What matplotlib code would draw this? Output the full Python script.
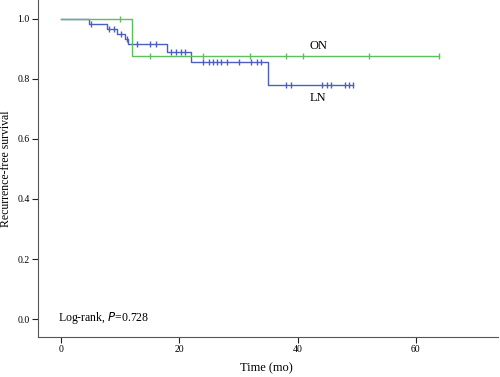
import numpy as np
import matplotlib.pyplot as plt

# LN group: event times and survival after each drop
ln_event_t = [0, 4.8, 7.8, 9.5, 10.8, 11.4, 18.0, 22.0, 35.0]
ln_surv = [1.0, 0.984, 0.968, 0.951, 0.934, 0.917, 0.890, 0.858, 0.780]
ln_end = 49.4
ln_censor = [5.0, 8.1, 8.9, 10.1, 11.1, 12.9, 15.0, 16.0, 18.6, 19.4, 20.3, 21.0,
             24.0, 25.0, 25.7, 26.4, 27.1, 28.0, 30.1, 32.1, 33.1, 33.9,
             38.0, 38.9, 44.1, 44.9, 45.7, 48.0, 48.7, 49.4]

# ON group
on_event_t = [0, 12.0]
on_surv = [1.0, 0.875]
on_end = 64.0
on_censor = [10.0, 15.0, 24.0, 32.0, 38.0, 41.0, 52.0, 64.0]

blue = "#4c5fc0"
green = "#5cc05c"

plt.rcParams['font.family'] = ['Liberation Serif', 'DejaVu Serif']

fig = plt.figure(figsize=(5, 3.77), dpi=100)
ax = fig.add_axes([0.076, 0.106, 0.92, 0.894])


def draw(times, surv, end, censor, color):
    t = list(times) + [end]
    s = list(surv) + [surv[-1]]
    ax.step(t, s, where='post', color=color, lw=1.0)
    idx = np.searchsorted(times, censor, side='right') - 1
    ax.plot(censor, np.array(surv)[idx], ls='none', marker='|',
            ms=5, mew=1.0, color=color)


draw(ln_event_t, ln_surv, ln_end, ln_censor, blue)
draw(on_event_t, on_surv, on_end, on_censor, green)

ax.text(43.5, 0.91, "ON", fontsize=9, ha='center', va='center')
ax.text(43.5, 0.735, "LN", fontsize=9, ha='center', va='center')
ax.text(-0.5, 0.003, "Log-rank, $\\it{P}$=0.728", fontsize=8.5, va='center')

ax.set_xlim(-3.9, 73.9)
ax.set_ylim(-0.06, 1.063)
ax.set_xticks([0, 20, 40, 60])
ax.set_yticks([0.0, 0.2, 0.4, 0.6, 0.8, 1.0])
ax.set_yticklabels(["0.0", "0.2", "0.4", "0.6", "0.8", "1.0"])
ax.tick_params(labelsize=7, length=4, width=0.8, color='#222222', pad=2)
for sp in ['top', 'right']:
    ax.spines[sp].set_visible(False)
for sp in ['left', 'bottom']:
    ax.spines[sp].set_color('#555555')
    ax.spines[sp].set_linewidth(0.8)

ax.set_xlabel("Time (mo)", fontsize=9)
ax.set_ylabel("Recurrence-free survival", fontsize=8.5)
ax.xaxis.set_label_coords(0.497, -0.075)
ax.yaxis.set_label_coords(-0.056, 0.5)

fig.savefig("out.png", dpi=100)
